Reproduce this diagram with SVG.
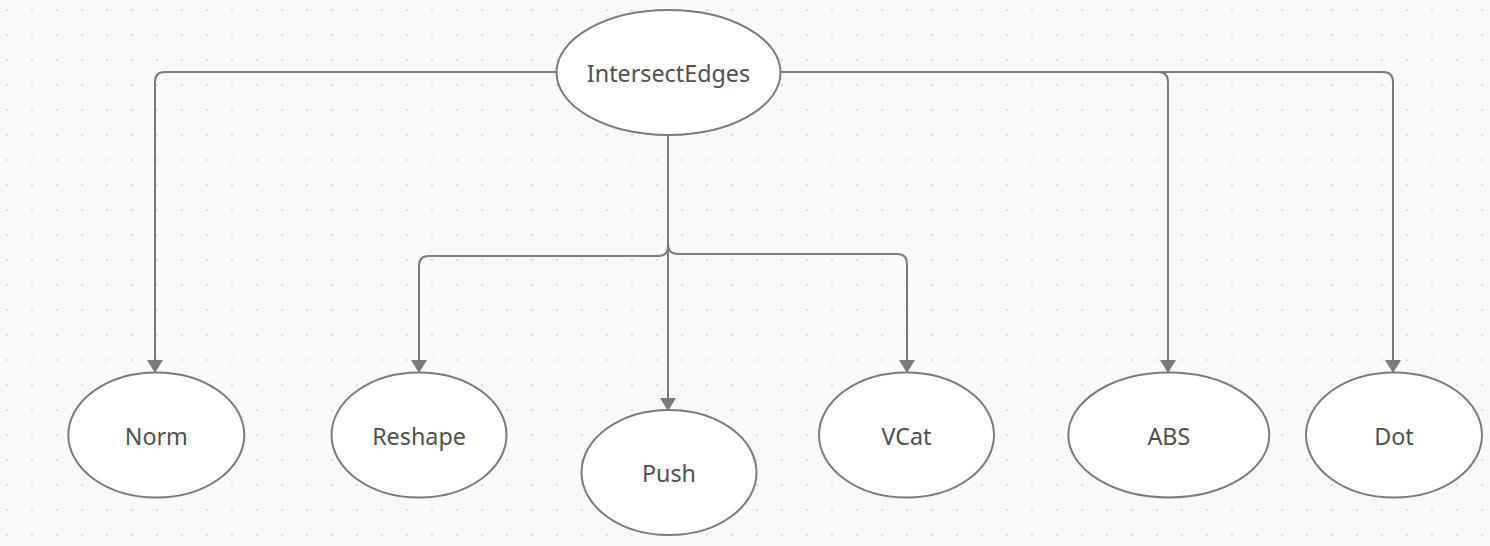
<svg xmlns="http://www.w3.org/2000/svg" width="1490" height="546" viewBox="0 0 1490 546">
<style>
.node ellipse{fill:#ffffff;stroke:#7a7a7a;stroke-width:2}
.node text{font-family:"Noto Sans","Open Sans","DejaVu Sans",sans-serif;font-size:23.3px;fill:#505050;text-anchor:middle}
.edge{fill:none;stroke:#7a7a7a;stroke-width:2;marker-end:url(#arr)}
</style>
<defs>
<pattern id="grid" x="0" y="0" width="25" height="25" patternUnits="userSpaceOnUse">
<circle cx="7" cy="10" r="1.2" fill="#dcdde2"/>
</pattern>
<marker id="arr" markerUnits="userSpaceOnUse" markerWidth="13" markerHeight="16" refX="13" refY="8" orient="auto">
<path d="M0,0 L13,8 L0,16 z" fill="#7a7a7a"/>
</marker>
</defs>
<rect width="1490" height="546" fill="#f8f9fb"/>
<rect width="1490" height="546" fill="url(#grid)"/>
<g id="connectors">
<path class="edge" d="M556,72 H165 Q155,72 155,82 V373"/>
<path class="edge" d="M668,135 V246 Q668,256 658,256 H429 Q419,256 419,266 V373"/>
<path class="edge" d="M668,135 V411"/>
<path class="edge" d="M668,135 V244 Q668,254 678,254 H897 Q907,254 907,264 V373"/>
<path class="edge" d="M781,72 H1158 Q1168,72 1168,82 V373"/>
<path class="edge" d="M781,72 H1383 Q1393,72 1393,82 V373"/>
</g>
<g id="IntersectEdges" class="node"><ellipse cx="668.5" cy="72.5" rx="112" ry="62.5"/><text x="668.5" y="82">IntersectEdges</text></g>
<g id="Norm" class="node"><ellipse cx="156.3" cy="435" rx="88" ry="62.5"/><text x="156.3" y="444.5">Norm</text></g>
<g id="Reshape" class="node"><ellipse cx="419" cy="435" rx="87.5" ry="62.5"/><text x="419" y="444.5">Reshape</text></g>
<g id="Push" class="node"><ellipse cx="669" cy="472.5" rx="87.5" ry="62.5"/><text x="669" y="482">Push</text></g>
<g id="VCat" class="node"><ellipse cx="906.5" cy="435" rx="87.5" ry="62.5"/><text x="906.5" y="444.5">VCat</text></g>
<g id="ABS" class="node"><ellipse cx="1168.8" cy="435" rx="100.5" ry="62.5"/><text x="1168.8" y="444.5">ABS</text></g>
<g id="Dot" class="node"><ellipse cx="1394" cy="435" rx="88" ry="62.5"/><text x="1394" y="444.5">Dot</text></g>
</svg>
